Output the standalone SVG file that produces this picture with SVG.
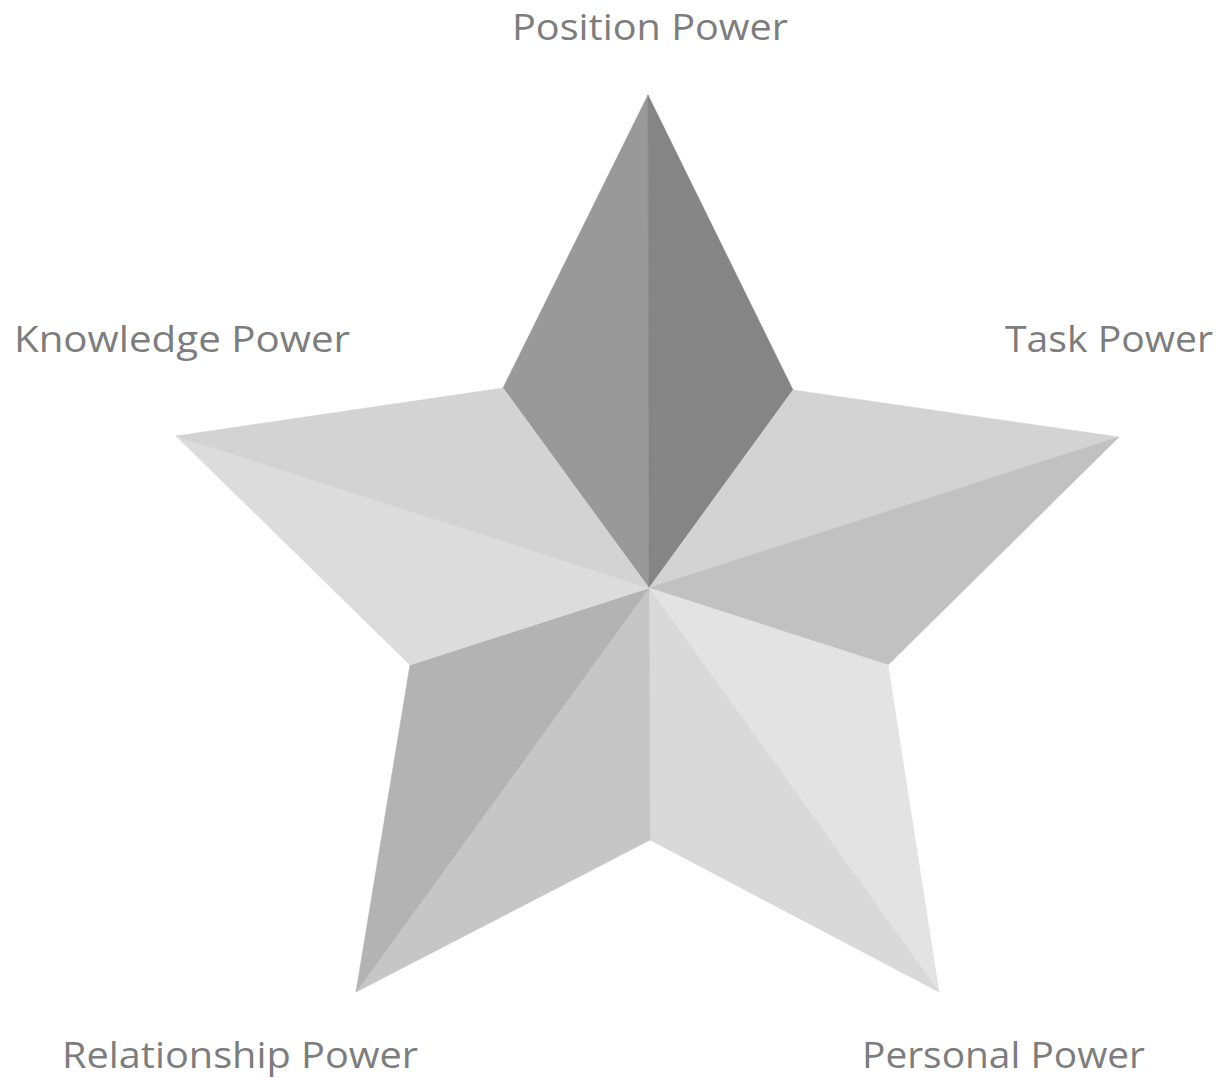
<svg xmlns="http://www.w3.org/2000/svg" width="1223" height="1078" viewBox="0 0 1223 1078">
  <style>
    .label { font-family: "Open Sans", "Liberation Sans", sans-serif; font-size: 36px; fill: #7d7d7d; }
    #star polygon { stroke-width: 0.6; stroke-linejoin: round; }
  </style>
  <rect width="1223" height="1078" fill="#ffffff"/>
  <!-- five-pointed star, each arm split into two facets meeting at the centre -->
  <g id="star">
    <g id="arm-position">
      <polygon points="648,95 503,388 649,588" fill="#999999" stroke="#999999"/>
      <polygon points="648,95 793,390 649,588" fill="#858585" stroke="#858585"/>
    </g>
    <g id="arm-task">
      <polygon points="793,390 1119,437 649,588" fill="#d3d3d3" stroke="#d3d3d3"/>
      <polygon points="1119,437 888,665 649,588" fill="#c1c1c1" stroke="#c1c1c1"/>
    </g>
    <g id="arm-personal">
      <polygon points="888,665 939,992 649,588" fill="#e3e3e3" stroke="#e3e3e3"/>
      <polygon points="939,992 650,840 649,588" fill="#d9d9d9" stroke="#d9d9d9"/>
    </g>
    <g id="arm-relationship">
      <polygon points="650,840 356,992 649,588" fill="#c6c6c6" stroke="#c6c6c6"/>
      <polygon points="356,992 410,665 649,588" fill="#b3b3b3" stroke="#b3b3b3"/>
    </g>
    <g id="arm-knowledge">
      <polygon points="410,665 176,436 649,588" fill="#dcdcdc" stroke="#dcdcdc"/>
      <polygon points="176,436 503,388 649,588" fill="#d3d3d3" stroke="#d3d3d3"/>
    </g>
  </g>
  <g id="labels">
    <text id="label-position" class="label" x="512" y="40" textLength="276" lengthAdjust="spacingAndGlyphs">Position Power</text>
    <text id="label-knowledge" class="label" x="14" y="352" textLength="336" lengthAdjust="spacingAndGlyphs">Knowledge Power</text>
    <text id="label-task" class="label" x="1005" y="352" textLength="208" lengthAdjust="spacingAndGlyphs">Task Power</text>
    <text id="label-relationship" class="label" x="62" y="1068" textLength="356" lengthAdjust="spacingAndGlyphs">Relationship Power</text>
    <text id="label-personal" class="label" x="862" y="1068" textLength="283" lengthAdjust="spacingAndGlyphs">Personal Power</text>
  </g>
</svg>
